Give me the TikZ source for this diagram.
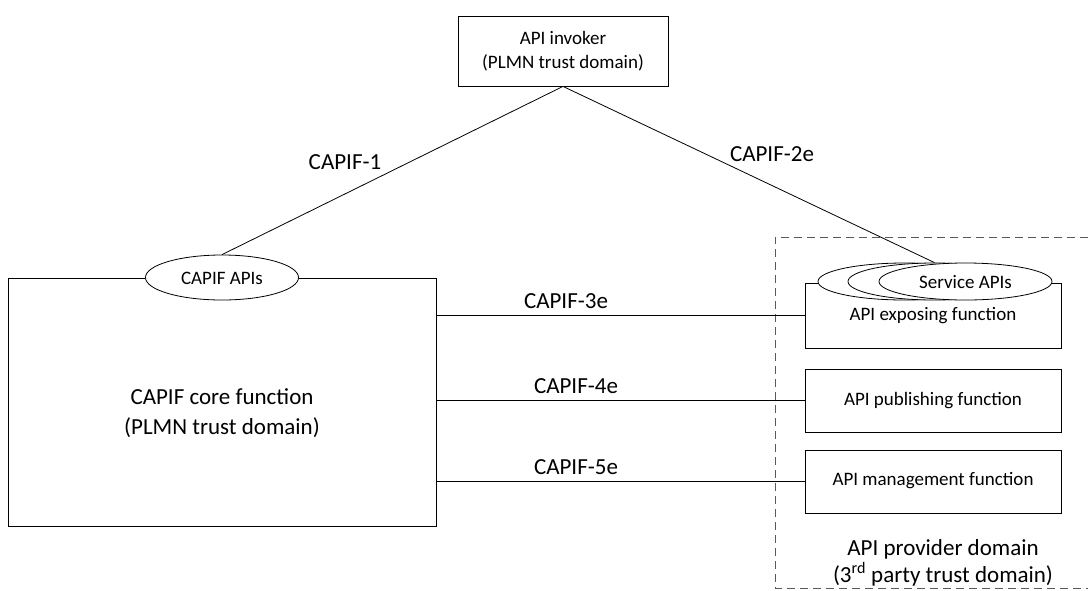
\documentclass[tikz,border=0pt]{standalone}
\usepackage{fontspec}
\setmainfont{Carlito}
\usetikzlibrary{shapes.geometric}
\begin{document}
\begin{tikzpicture}[x=1pt,y=-1pt,
  box/.style={draw,line width=0.8pt,fill=white,inner sep=0pt},
  oval/.style={draw,ellipse,line width=0.8pt,fill=white,inner sep=0pt},
  link/.style={line width=0.8pt},
  big/.style={font=\fontsize{23}{30}\selectfont,align=center},
  small/.style={font=\fontsize{19}{24}\selectfont,align=center}]
\useasboundingbox (0,0) rectangle (1088,590);
% dashed provider domain
\draw[line width=0.8pt,gray!70!black,dash pattern=on 8pt off 5pt] (1088,237) -- (775,237) -- (775,588) -- (1088,588);
% boxes
\node[box,minimum width=210pt,minimum height=70pt] (invoker) at (563,51) {};
\node[small] (invokertext) at (563,51) {API invoker\\(PLMN trust domain)};
\node[box,minimum width=428pt,minimum height=248pt] (core) at (222,402) {};
\node[big] (coretext) at (222,413) {CAPIF core function\\(PLMN trust domain)};
\node[box,minimum width=256pt,minimum height=65pt] (expose) at (933,315.5) {};
\node[small] (exposetext) at (933,316) {API exposing function};
\node[box,minimum width=256pt,minimum height=63pt] (publish) at (933,400.5) {};
\node[small] (publishtext) at (933,401) {API publishing function};
\node[box,minimum width=256pt,minimum height=63pt] (manage) at (933,481.5) {};
\node[small] (managetext) at (933,481) {API management function};
% ellipses
\node[oval,minimum width=153pt,minimum height=45pt] (capifapis) at (222,277.5) {};
\node[small] (capifapistext) at (222,278) {CAPIF APIs};
\node[oval,minimum width=173pt,minimum height=37pt] (sapi1) at (904.5,281.5) {};
\node[oval,minimum width=173pt,minimum height=37pt] (sapi2) at (934.5,281.5) {};
\node[oval,minimum width=173pt,minimum height=37pt] (sapi3) at (965.5,281.5) {};
\node[small] (sapitext) at (965.5,282) {Service APIs};
% connectors
\draw[link] (capifapis.north) -- (invoker.south);
\draw[link] (invoker.south) -- (sapi2.north);
\draw[link] (core.east |- expose.west) -- (expose.west);
\draw[link] (core.east |- publish.west) -- (publish.west);
\draw[link] (core.east |- manage.west) -- (manage.west);
% labels
\node[big] (l1) at (345,162) {CAPIF-1};
\node[big] (l2) at (772,154) {CAPIF-2e};
\node[big] (l3) at (566,301) {CAPIF-3e};
\node[big] (l4) at (576,386) {CAPIF-4e};
\node[big] (l5) at (576,467) {CAPIF-5e};
\node[big,font=\fontsize{23}{27}\selectfont] (domain) at (943,563) {API provider domain\\(3\textsuperscript{rd} party trust domain)};
\end{tikzpicture}
\end{document}
